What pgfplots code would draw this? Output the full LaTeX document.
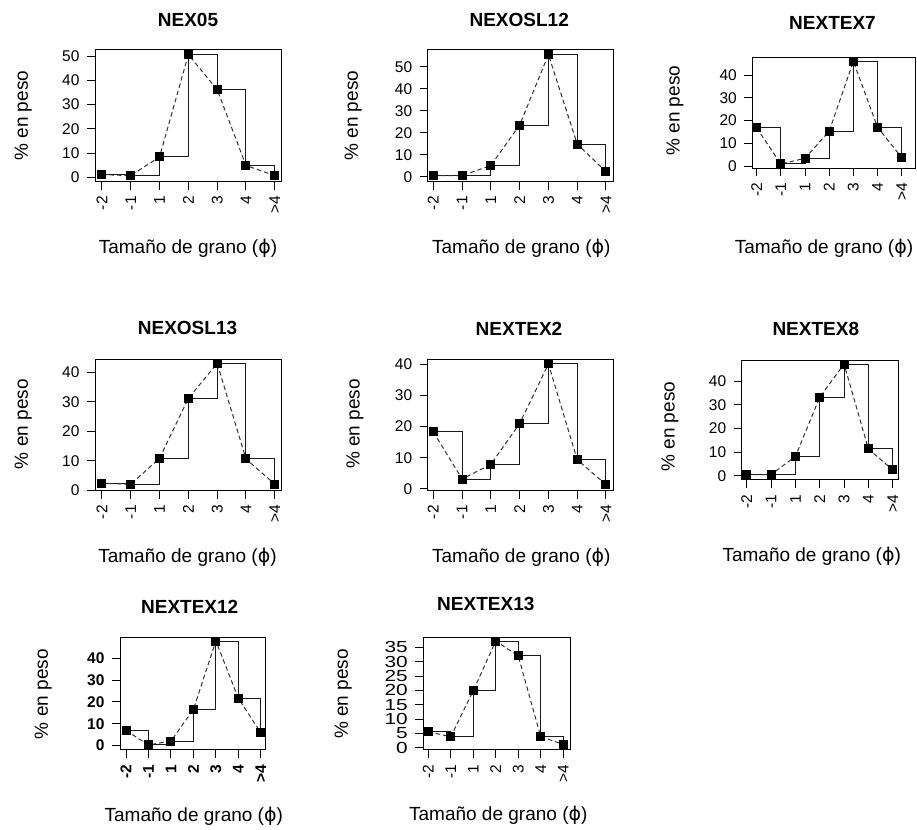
\documentclass[border=0pt]{standalone}
\usepackage{pgfplots}
\usepackage{pgfplotstable}
\pgfplotsset{compat=1.18}
\usepackage{fontspec}
\setmainfont{Liberation Sans}
\newfontfamily\dejavu{DejaVu Sans}

\pgfplotstableread{
x y
1 1.1
2 0.7
3 8.4
4 50.6
5 36.2
6 4.9
7 0.7
}\tA
\pgfplotstableread{
x y
1 0.45
2 0.45
3 5.1
4 23.5
5 55.5
6 14.8
7 2.3
}\tB
\pgfplotstableread{
x y
1 16.8
2 0.9
3 3.4
4 15.3
5 46.0
6 17.1
7 3.7
}\tC
\pgfplotstableread{
x y
1 2.3
2 2.0
3 10.8
4 31.2
5 43.1
6 10.6
7 2.0
}\tD
\pgfplotstableread{
x y
1 18.3
2 3.2
3 7.9
4 21.0
5 40.1
6 9.4
7 1.4
}\tE
\pgfplotstableread{
x y
1 0.5
2 0.5
3 8.2
4 33.2
5 47.2
6 11.3
7 2.5
}\tF
\pgfplotstableread{
x y
1 6.9
2 0.3
3 2.1
4 16.6
5 47.9
6 21.7
7 5.9
}\tG
\pgfplotstableread{
x y
1 5.6
2 3.8
3 19.9
4 37.2
5 32.0
6 3.8
7 1.2
}\tH

\pgfplotsset{
  panel/.style={
    scale only axis, anchor=south west,
    xtick={1,...,7}, xticklabels={-2,-1,1,2,3,4,>4},
    tick align=outside, xtick pos=left, ytick pos=left,
    major tick length=8pt,
    tick style={black, line width=1pt},
    axis line style={line width=1pt},
    xticklabel style={rotate=90, anchor=east, font=\fontsize{15.5}{15.5}\selectfont},
    yticklabel style={font=\fontsize{15.5}{15.5}\selectfont},
    xticklabel shift=3pt, yticklabel shift=4pt,
    /pgf/number format/assume math mode=true,
    clip=false,
  },
  stepl/.style={const plot, black!90, line width=1pt, no marks},
  dashl/.style={dash pattern=on 4.5pt off 3pt, black!80, line width=1pt,
    mark=square*, mark size=4pt, mark options={solid, fill=black, draw=black}},
}
\newcommand{\xlab}{Tamaño de grano ({\dejavu ϕ})}
\newcommand{\ttl}{\fontsize{19}{19}\selectfont\bfseries}
\newcommand{\lab}{\fontsize{19}{19}\selectfont}

\begin{document}
\begin{tikzpicture}
\useasboundingbox (0pt,0pt) rectangle (917pt,829pt);

% Panel 1 NEX05
\begin{axis}[panel, at={(95pt,647.3pt)}, width=186.7pt, height=131.7pt,
  xmin=0.76, xmax=7.24, ymin=-1.8, ymax=52.5, ytick={0,10,...,50}]
\addplot[stepl] table[x=x,y=y]{\tA};
\addplot[dashl] table[x=x,y=y]{\tA};
\end{axis}
\node[font=\ttl] at (188pt,809pt) {NEX05};
\node[font=\lab, rotate=90] at (23.3pt,713.2pt) {\% en peso};
\node[font=\lab] at (188pt,581pt) {\xlab};

% Panel 2 NEXOSL12
\begin{axis}[panel, at={(427.7pt,647.3pt)}, width=185.6pt, height=131.7pt,
  xmin=0.805, xmax=7.254, ymin=-2.27, ymax=57.6, ytick={0,10,...,50}]
\addplot[stepl] table[x=x,y=y]{\tB};
\addplot[dashl] table[x=x,y=y]{\tB};
\end{axis}
\node[font=\ttl] at (519.2pt,809pt) {NEXOSL12};
\node[font=\lab, rotate=90] at (353.3pt,713.2pt) {\% en peso};
\node[font=\lab] at (521.3pt,581pt) {\xlab};

% Panel 3 NEXTEX7
\begin{axis}[panel, at={(752.3pt,660.7pt)}, width=163.4pt, height=111pt,
  xmin=0.82, xmax=7.58, ymin=-1.0, ymax=47.8, ytick={0,10,...,40}]
\addplot[stepl] table[x=x,y=y]{\tC};
\addplot[dashl] table[x=x,y=y]{\tC};
\end{axis}
\node[font=\ttl] at (832.5pt,806.3pt) {NEXTEX7};
\node[font=\lab, rotate=90] at (675pt,718.2pt) {\% en peso};
\node[font=\lab] at (824pt,581pt) {\xlab};

% Panel 4 NEXOSL13
\begin{axis}[panel, at={(95pt,338.3pt)}, width=186.7pt, height=131.4pt,
  xmin=0.76, xmax=7.24, ymin=-0.2, ymax=44.5, ytick={0,10,...,40}]
\addplot[stepl] table[x=x,y=y]{\tD};
\addplot[dashl] table[x=x,y=y]{\tD};
\end{axis}
\node[font=\ttl] at (187.5pt,500.7pt) {NEXOSL13};
\node[font=\lab, rotate=90] at (23.3pt,404.8pt) {\% en peso};
\node[font=\lab] at (187.5pt,272pt) {\xlab};

% Panel 5 NEXTEX2
\begin{axis}[panel, at={(427.7pt,338.3pt)}, width=185.6pt, height=131.4pt,
  xmin=0.805, xmax=7.254, ymin=-0.55, ymax=41.6, ytick={0,10,...,40}]
\addplot[stepl] table[x=x,y=y]{\tE};
\addplot[dashl] table[x=x,y=y]{\tE};
\end{axis}
\node[font=\ttl] at (519pt,499.7pt) {NEXTEX2};
\node[font=\lab, rotate=90] at (355pt,405pt) {\% en peso};
\node[font=\lab] at (521.3pt,272pt) {\xlab};

% Panel 6 NEXTEX8
\begin{axis}[panel, at={(741.7pt,349pt)}, width=156.6pt, height=119.3pt,
  xmin=0.79, xmax=7.23, ymin=-1.8, ymax=48.6, ytick={0,10,...,40}]
\addplot[stepl] table[x=x,y=y]{\tF};
\addplot[dashl] table[x=x,y=y]{\tF};
\end{axis}
\node[font=\ttl] at (815.8pt,499.7pt) {NEXTEX8};
\node[font=\lab, rotate=90] at (670pt,402.3pt) {\% en peso};
\node[font=\lab] at (811.7pt,272.3pt) {\xlab};

% Panel 7 NEXTEX12
\begin{axis}[panel, at={(120pt,79pt)}, width=145.7pt, height=112.7pt,
  xmin=0.73, xmax=7.22, ymin=-2.0, ymax=49.6, ytick={0,10,...,40},
  yticklabel style={font=\fontsize{15.5}{15.5}\selectfont\bfseries},
  xticklabel style={font=\fontsize{15.5}{15.5}\selectfont\bfseries}]
\addplot[stepl] table[x=x,y=y]{\tG};
\addplot[dashl] table[x=x,y=y]{\tG};
\end{axis}
\node[font=\ttl] at (189.7pt,222.3pt) {NEXTEX12};
\node[font=\lab, rotate=90] at (43.3pt,134.8pt) {\% en peso};
\node[font=\lab] at (193.8pt,12.3pt) {\xlab};

% Panel 8 NEXTEX13
\begin{axis}[panel, at={(423.3pt,79pt)}, width=146.7pt, height=112.7pt,
  xmin=0.78, xmax=7.3, ymin=-0.8, ymax=38.5, ytick={0,5,...,35},
  yticklabel style={font=\fontsize{16}{16}\selectfont, xscale=1.3},
  yticklabel shift=3pt]
\addplot[stepl] table[x=x,y=y]{\tH};
\addplot[dashl] table[x=x,y=y]{\tH};
\end{axis}
\node[font=\ttl] at (485.8pt,225pt) {NEXTEX13};
\node[font=\lab, rotate=90] at (343.3pt,135pt) {\% en peso};
\node[font=\lab] at (498.3pt,14pt) {\xlab};
\end{tikzpicture}
\end{document}
